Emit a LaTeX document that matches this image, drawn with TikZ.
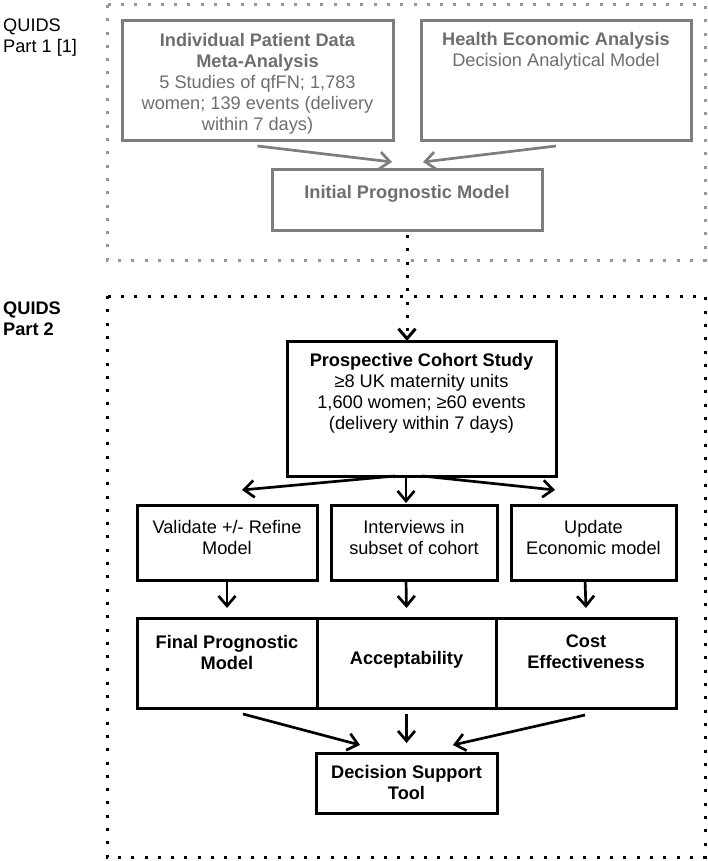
\documentclass[tikz,border=0pt]{standalone}
\usepackage{fontspec}
\setmainfont{Liberation Sans}
\usetikzlibrary{arrows.meta,positioning}
\definecolor{boxgray}{RGB}{125,125,125}
\definecolor{txtgray}{RGB}{110,110,110}
\definecolor{dotgray}{RGB}{150,150,150}

\begin{document}
\begin{tikzpicture}[x=1pt,y=-1pt,>={Straight Barb[length=10pt,width=17pt]},
		every node/.style={font=\fontsize{18.2}{21}\selectfont}]
		\tikzstyle{block} = [draw, rectangle, line width=3pt, inner sep=0pt, outer sep=0pt]
		\tikzstyle{gblock} = [block, draw=boxgray]
		\tikzstyle{txt} = [align=center, inner sep=0pt]
		\tikzstyle{gtxt} = [txt, text=txtgray]
		\tikzstyle{arr} = [->, line width=2.7pt]
		\tikzstyle{dots} = [line width=3pt, dash pattern=on 3pt off 10.3pt]
		\useasboundingbox (0,0) rectangle (708,861);

		% part 1
		\draw[dots, draw=dotgray] (107,5) rectangle (705,260);
		\node[anchor=north west, align=left, inner sep=0pt] (part1) at (3,19) {QUIDS\\Part 1 [1]};
		\node[gblock, minimum width=271, minimum height=120] (ipd) at (257.5,81) {};
		\node[gblock, minimum width=270, minimum height=120] (hea) at (556,81) {};
		\node[gblock, minimum width=270, minimum height=60] (ipm) at (407,200) {};
		\node[gtxt, below=12pt of ipd.north] (ipd-t) {\textbf{Individual Patient Data}\\\textbf{Meta-Analysis}\\5 Studies of qfFN; 1,783\\women; 139 events (delivery\\within 7 days)};
		\node[gtxt, below=11pt of hea.north] (hea-t) {\textbf{Health Economic Analysis}\\Decision Analytical Model};
		\node[gtxt, below=15pt of ipm.north] (ipm-t) {\textbf{Initial Prognostic Model}};

		\draw[arr, boxgray] ([yshift=-5pt]ipd.south) -- ([xshift=-15pt,yshift=8pt]ipm.north);
		\draw[arr, boxgray] ([yshift=-5pt]hea.south) -- ([xshift=16pt,yshift=8pt]ipm.north);

		% part 2
		\draw[dots] (107,296) rectangle (705,857);
		\node[anchor=north west, align=left, inner sep=0pt] (part2) at (3,302) {\textbf{QUIDS}\\\textbf{Part 2}};
		\node[block, minimum width=269, minimum height=135] (pcs) at (421.5,408.5) {};
		\node[txt, below=12pt of pcs.north] (pcs-t) {\textbf{Prospective Cohort Study}\\≥8 UK maternity units\\1,600 women; ≥60 events\\(delivery within 7 days)};
		\draw[->, dots] ([yshift=-5pt]ipm.south) -- (ipm.south |- pcs.north);

		\node[block, minimum width=180, minimum height=75] (val) at (227,542.5) {};
		\node[block, minimum width=166, minimum height=75] (int) at (414,542.5) {};
		\node[block, minimum width=165, minimum height=75] (upd) at (593.5,542.5) {};
		\node[txt, below=15pt of val.north] (val-t) {Validate +/- Refine\\Model};
		\node[txt, below=15pt of int.north] (int-t) {Interviews in\\subset of cohort};
		\node[txt, below=15pt of upd.north] (upd-t) {Update\\Economic model};

		\draw[arr] ([xshift=-26.5pt]pcs.south) -- ([xshift=15pt,yshift=15pt]val.north);
		\draw[arr] ([xshift=-15.5pt]pcs.south) -- ([xshift=-8pt,yshift=2pt]int.north);
		\draw[arr] ([xshift=0.5pt]pcs.south) -- ([xshift=-38.5pt,yshift=15pt]upd.north);

		\node[block, minimum width=180, minimum height=90] (fpm) at (227,663) {};
		\node[block, minimum width=179, minimum height=90] (acc) at (406.5,663) {};
		\node[block, minimum width=180, minimum height=90] (cef) at (586,663) {};
		\node[txt, below=17pt of fpm.north] (fpm-t) {\textbf{Final Prognostic}\\\textbf{Model}};
		\node[txt, below=33pt of acc.north] (acc-t) {\textbf{Acceptability}};
		\node[txt, below=17pt of cef.north] (cef-t) {\textbf{Cost}\\\textbf{Effectiveness}};

		\draw[arr] (val.south) -- ([yshift=10pt]fpm.north);
		\draw[arr] ([xshift=-8pt]int.south) -- ([yshift=10pt]acc.north);
		\draw[arr] ([xshift=-8.5pt]upd.south) -- ([yshift=10pt]cef.north);

		\node[block, minimum width=181, minimum height=60] (dst) at (406.5,783) {};
		\node[txt, below=12pt of dst.north] (dst-t) {\textbf{Decision Support}\\\textbf{Tool}};

		\draw[arr] ([xshift=16pt,yshift=-6pt]fpm.south) -- ([xshift=-46.5pt,yshift=8pt]dst.north);
		\draw[arr] ([yshift=-6pt]acc.south) -- ([yshift=10pt]dst.north);
		\draw[arr] ([xshift=-1pt,yshift=-7pt]cef.south) -- ([xshift=46.5pt,yshift=8pt]dst.north);
	\end{tikzpicture}
\end{document}
